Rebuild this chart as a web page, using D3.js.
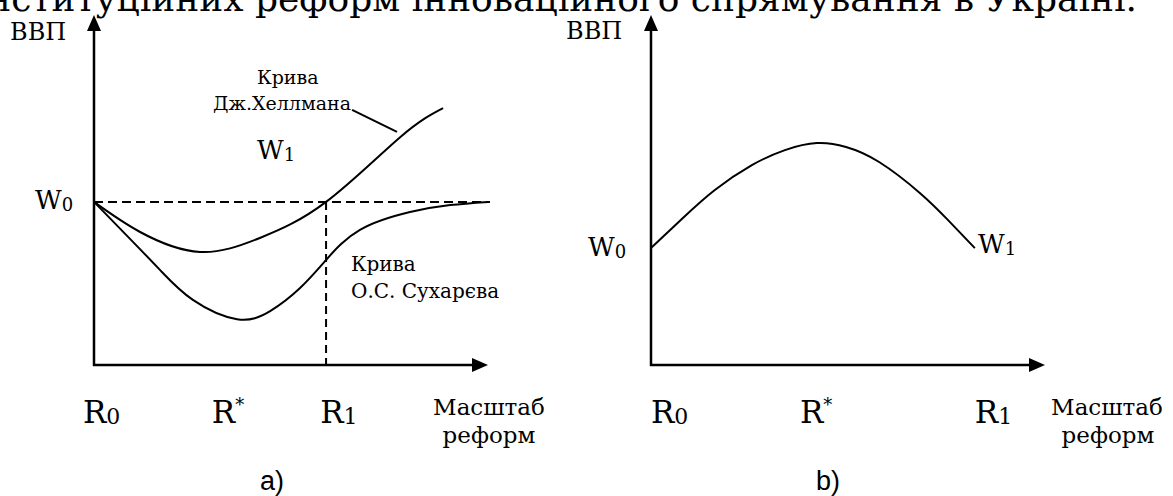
<!DOCTYPE html>
<html>
<head>
<meta charset="utf-8">
<script src="https://cdn.jsdelivr.net/npm/d3@7"></script>
<style>
  body { margin: 0; background: #fff; }
  text { font-family: "DejaVu Serif", serif; fill: #000; }
</style>
</head>
<body>
<div id="chart"></div>
<script>
// panel a: Hellman curve (reform scale -> GDP)
var hellmanX = [0, 1.17, 2.69, 4.21, 5.89, 7.77, 8.86];
var hellmanY = [4.66, 3.8, 3.23, 3.63, 4.66, 6.51, 7.34];
// panel a: Sukharev curve
var sukharevX = [0, 0.84, 1.68, 2.51, 3.63, 4.47, 5.23, 5.89, 6.75, 8.02, 9.04, 10.0];
var sukharevY = [4.66, 3.69, 2.71, 1.86, 1.31, 1.54, 2.2, 3.0, 3.86, 4.37, 4.57, 4.66];
// panel b curve
var curveBX = [0, 0.81, 1.62, 2.56, 3.4, 4.21, 4.95, 5.79, 6.83, 7.54, 8.22];
var curveBY = [3.34, 4.2, 5.0, 5.71, 6.14, 6.34, 6.23, 5.8, 4.91, 4.14, 3.34];
// reference levels
var w0A = 4.66, r1A = 5.89;
// tick labels
var tickNames = ["R", "R", "R"];
var tickMarks = ["0", "*", "1"];
var ticksA = [-0.28, 2.99, 5.74];
var ticksB = [0, 3.78, 8.22];

var width = 1173, height = 496;
var svg = d3.select("#chart").append("svg")
  .attr("width", width)
  .attr("height", height);

// title line, cut off at top
svg.append("text")
  .attr("x", 1137).attr("y", 11)
  .attr("text-anchor", "end")
  .style("font-size", "36px")
  .text("інституційних реформ інноваційного спрямування в Україні.");

var yScale = d3.scaleLinear().domain([0, 10]).range([365, 15]);
var xA = d3.scaleLinear().domain([0, 10]).range([94, 488]);
var xB = d3.scaleLinear().domain([0, 10]).range([651, 1045]);

function drawAxes(x) {
  var g = svg.append("g");
  var x0 = x(0), y0 = yScale(0), top = yScale(10), right = x(10);
  g.append("line").attr("x1", x0).attr("y1", y0 + 1).attr("x2", x0).attr("y2", top + 14)
    .attr("stroke", "#000").attr("stroke-width", 2.5);
  g.append("line").attr("x1", x0 - 1).attr("y1", y0).attr("x2", right - 14).attr("y2", y0)
    .attr("stroke", "#000").attr("stroke-width", 2.5);
  // arrow heads
  g.append("path").attr("d", "M" + x0 + "," + top + "L" + (x0 - 7) + "," + (top + 16) + "L" + (x0 + 7) + "," + (top + 16) + "Z");
  g.append("path").attr("d", "M" + right + "," + y0 + "L" + (right - 16) + "," + (y0 - 7) + "L" + (right - 16) + "," + (y0 + 7) + "Z");
}

function label(parent, x, y, main, sub, size, subSize, dy) {
  var t = parent.append("text").attr("x", x).attr("y", y).style("font-size", size + "px");
  t.append("tspan").text(main);
  if (sub) {
    t.append("tspan").attr("dy", dy).style("font-size", subSize + "px").text(sub);
  }
  return t;
}

function drawTicks(x, ticks) {
  ticks.forEach(function(v, i) {
    var star = tickMarks[i] === "*";
    label(svg, x(v), 423, tickNames[i], tickMarks[i], 31, star ? 18 : 22, star ? -12 : 1);
  });
}

var line = function(x) {
  return d3.line()
    .x(function(d) { return x(d[0]); })
    .y(function(d) { return yScale(d[1]); })
    .curve(d3.curveNatural);
};

// ---------- panel a ----------
drawAxes(xA);

svg.append("line")
  .attr("x1", xA(0)).attr("y1", yScale(w0A)).attr("x2", xA(10.05)).attr("y2", yScale(w0A))
  .attr("stroke", "#000").attr("stroke-width", 2).attr("stroke-dasharray", "9,5");
svg.append("line")
  .attr("x1", xA(r1A)).attr("y1", yScale(w0A)).attr("x2", xA(r1A)).attr("y2", yScale(0))
  .attr("stroke", "#000").attr("stroke-width", 2).attr("stroke-dasharray", "8,5");

svg.append("path")
  .datum(d3.zip(hellmanX, hellmanY))
  .attr("d", line(xA))
  .attr("fill", "none").attr("stroke", "#000").attr("stroke-width", 2);
svg.append("path")
  .datum(d3.zip(sukharevX, sukharevY))
  .attr("d", line(xA))
  .attr("fill", "none").attr("stroke", "#000").attr("stroke-width", 2);

drawTicks(xA, ticksA);

label(svg, 10, 40, "ВВП", null, 24);
label(svg, 35, 209, "W", "0", 26, 18, 2);
label(svg, 257, 159, "W", "1", 26, 18, 2);

svg.append("text").attr("x", 257).attr("y", 84).style("font-size", "19px").text("Крива");
svg.append("text").attr("x", 213).attr("y", 110).style("font-size", "19px").text("Дж.Хеллмана");
svg.append("line")
  .attr("x1", xA(6.55)).attr("y1", yScale(7.29)).attr("x2", xA(7.69)).attr("y2", yScale(6.66))
  .attr("stroke", "#000").attr("stroke-width", 2);

svg.append("text").attr("x", 351).attr("y", 271).style("font-size", "20px").text("Крива");
svg.append("text").attr("x", 351).attr("y", 298).style("font-size", "20px").text("О.С. Сухарєва");

svg.append("text").attr("x", 489).attr("y", 415).attr("text-anchor", "middle").style("font-size", "23px").text("Масштаб");
svg.append("text").attr("x", 489).attr("y", 443).attr("text-anchor", "middle").style("font-size", "23px").text("реформ");

svg.append("text").attr("x", 272).attr("y", 490).attr("text-anchor", "middle")
  .style("font-family", "Liberation Sans, Arial, sans-serif").style("font-size", "27px").text("a)");

// ---------- panel b ----------
drawAxes(xB);

svg.append("path")
  .datum(d3.zip(curveBX, curveBY))
  .attr("d", line(xB))
  .attr("fill", "none").attr("stroke", "#000").attr("stroke-width", 2);

drawTicks(xB, ticksB);

label(svg, 566, 39, "ВВП", null, 24);
label(svg, 588, 256, "W", "0", 26, 18, 2);
label(svg, 978, 253, "W", "1", 26, 18, 2);

svg.append("text").attr("x", 1107).attr("y", 415).attr("text-anchor", "middle").style("font-size", "23px").text("Масштаб");
svg.append("text").attr("x", 1108).attr("y", 443).attr("text-anchor", "middle").style("font-size", "23px").text("реформ");

svg.append("text").attr("x", 828).attr("y", 490).attr("text-anchor", "middle")
  .style("font-family", "Liberation Sans, Arial, sans-serif").style("font-size", "27px").text("b)");
</script>
</body>
</html>
